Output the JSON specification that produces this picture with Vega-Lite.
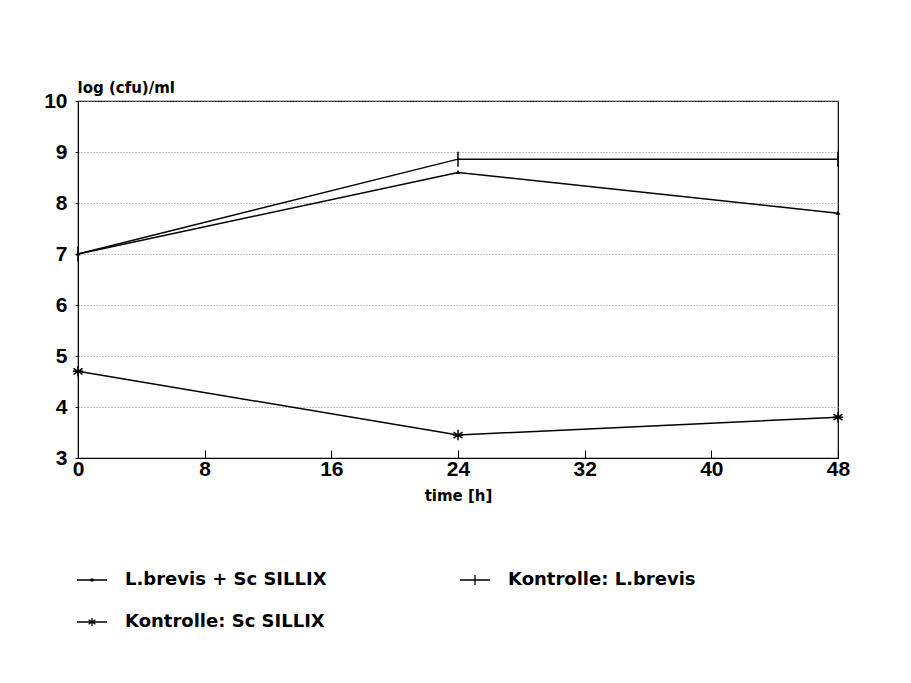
{
  "$schema": "https://vega.github.io/schema/vega-lite/v6.json",
  "width": 760,
  "height": 357,
  "autosize": {"type": "none"},
  "padding": {"left": 78, "top": 101, "right": 73, "bottom": 225},
  "background": "white",
  "config": {
    "font": "Liberation Sans",
    "view": {"stroke": "black", "strokeWidth": 1.2},
    "axis": {"labelFont": "Liberation Sans", "titleFont": "DejaVu Sans"}
  },
  "data": {
    "values": [
      {"series": "L.brevis + Sc SILLIX", "time": 0, "log": 7.0},
      {"series": "L.brevis + Sc SILLIX", "time": 24, "log": 8.6},
      {"series": "L.brevis + Sc SILLIX", "time": 48, "log": 7.8},
      {"series": "Kontrolle: L.brevis", "time": 0, "log": 7.0},
      {"series": "Kontrolle: L.brevis", "time": 24, "log": 8.86},
      {"series": "Kontrolle: L.brevis", "time": 48, "log": 8.86},
      {"series": "Kontrolle: Sc SILLIX", "time": 0, "log": 4.7},
      {"series": "Kontrolle: Sc SILLIX", "time": 24, "log": 3.45},
      {"series": "Kontrolle: Sc SILLIX", "time": 48, "log": 3.8}
    ]
  },
  "encoding": {
    "x": {
      "field": "time", "type": "quantitative",
      "scale": {"domain": [0, 48], "nice": false, "zero": false},
      "axis": {
        "values": [0, 8, 16, 24, 32, 40, 48],
        "title": "time [h]",
        "titleFontSize": 15, "titleFontWeight": "bold", "titlePadding": 9,
        "labelFontSize": 21, "labelFontWeight": "bold", "labelPadding": 8,
        "labelFlush": false,
        "tickSize": -8, "tickColor": "black", "domainColor": "black",
        "grid": false
      }
    },
    "y": {
      "field": "log", "type": "quantitative",
      "scale": {"domain": [3, 10], "nice": false, "zero": false},
      "axis": {
        "values": [3, 4, 5, 6, 7, 8, 9, 10],
        "title": "log (cfu)/ml",
        "titleAngle": 0, "titleAlign": "left", "titleBaseline": "bottom",
        "titleX": -1, "titleY": -6,
        "titleFontSize": 15, "titleFontWeight": "bold",
        "labelFontSize": 21, "labelFontWeight": "bold", "labelPadding": 8,
        "labelFlush": false,
        "tickSize": 3, "tickColor": "black", "domainColor": "black",
        "grid": true, "gridColor": "#888888", "gridDash": [1, 2], "gridWidth": 1
      }
    }
  },
  "layer": [
    {
      "mark": {"type": "line", "color": "black", "strokeWidth": 1.5},
      "encoding": {"detail": {"field": "series"}}
    },
    {
      "mark": {"type": "point", "filled": false, "stroke": "black", "strokeWidth": 1.5, "opacity": 1, "size": 225},
      "encoding": {
        "shape": {
          "field": "series", "type": "nominal",
          "scale": {
            "domain": ["L.brevis + Sc SILLIX", "Kontrolle: L.brevis", "Kontrolle: Sc SILLIX"],
            "range": [
              "M-0.15,0.1L0,-0.15L0.15,0.1Z",
              "M0,-1V1",
              "M0,-0.7V0.7M-0.6,-0.4L0.6,0.4M-0.6,0.4L0.6,-0.4M-0.7,0H0.7"
            ]
          },
          "legend": null
        }
      }
    },
    {
      "mark": {"type": "point", "filled": false, "stroke": "black", "opacity": 0, "size": 1},
      "encoding": {
        "shape": {
          "field": "series", "type": "nominal",
          "scale": {
            "domain": ["L.brevis + Sc SILLIX", "Kontrolle: L.brevis", "Kontrolle: Sc SILLIX"],
            "range": [
              "M-1,0H1M-0.05,-0.05H0.05V0.05H-0.05Z",
              "M-1,0H1M0,-0.33V0.33",
              "M-1,0H1M0,-0.27V0.27M-0.23,-0.15L0.23,0.15M-0.23,0.15L0.23,-0.15"
            ]
          },
          "legend": {
            "title": null,
            "orient": "none",
            "legendX": -2,
            "legendY": 463,
            "direction": "horizontal",
            "columns": 2,
            "columnPadding": 130,
            "rowPadding": 17,
            "symbolSize": 900,
            "symbolStrokeColor": "black",
            "symbolStrokeWidth": 1.3,
            "symbolOpacity": 1,
            "symbolFillColor": "transparent",
            "labelFont": "DejaVu Sans",
            "labelFontSize": 18,
            "labelFontWeight": "bold",
            "labelColor": "black",
            "labelOffset": 17,
            "labelLimit": 300
          }
        }
      }
    }
  ],
  "resolve": {"scale": {"shape": "independent"}}
}
